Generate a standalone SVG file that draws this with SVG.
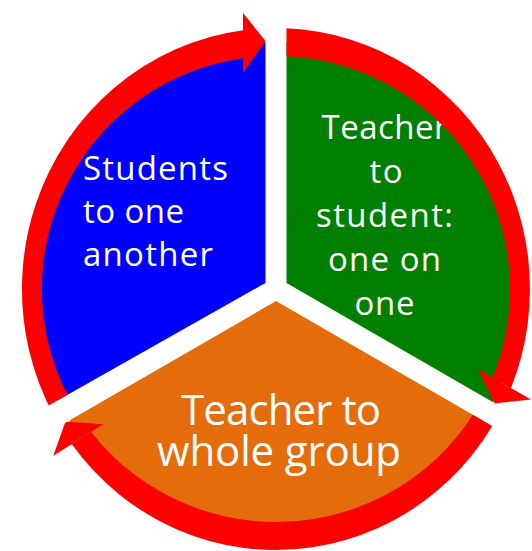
<svg xmlns="http://www.w3.org/2000/svg" width="532" height="551" viewBox="0 0 532 551">
  <style>
    .lbl { font-family: "Open Sans", Lato, "Liberation Sans", sans-serif; fill: #FFFFFF; }
    .small { font-size: 33px; }
    .big { font-size: 42px; }
    .arc { fill: #FF0000; }
  </style>
  <defs>
    <clipPath id="wBlue"><polygon points="265.5,282.9 -81,478.7 -200,-100 265.5,-100"/></clipPath>
    <clipPath id="wGreen"><polygon points="286.5,282.9 633,483 750,-100 286.5,-100"/></clipPath>
    <clipPath id="wOrange"><polygon points="276,301.1 622.4,501.1 622.4,700 -70.4,700 -70.4,501.1"/></clipPath>
  </defs>
  <rect width="532" height="551" fill="#FFFFFF"/>

  <g id="node-blue">
    <ellipse cx="276" cy="289" rx="244" ry="247" fill="#0000FF" clip-path="url(#wBlue)"/>
    <text class="lbl small" x="83" y="180" textLength="145">Students</text>
    <text class="lbl small" x="83" y="223" textLength="101">to one</text>
    <text class="lbl small" x="83" y="266" textLength="130">another</text>
  </g>

  <g id="node-green">
    <ellipse cx="276" cy="289" rx="244" ry="247" fill="#008000" clip-path="url(#wGreen)"/>
    <g text-anchor="middle">
      <text class="lbl small" x="384.5" y="138.5" textLength="126">Teacher</text>
      <text class="lbl small" x="386" y="182.5" textLength="33">to</text>
      <text class="lbl small" x="384.5" y="226.5" textLength="137">student:</text>
      <text class="lbl small" x="384.5" y="270.5" textLength="113">one on</text>
      <text class="lbl small" x="384.5" y="314.5" textLength="60">one</text>
    </g>
  </g>

  <g id="node-orange">
    <ellipse cx="276" cy="289" rx="244" ry="247" fill="#E46C0A" clip-path="url(#wOrange)"/>
    <g text-anchor="middle">
      <text class="lbl big" x="281" y="425" textLength="200">Teacher to</text>
      <text class="lbl big" x="279" y="466" textLength="244">whole group</text>
    </g>
  </g>

  <g id="connectors">
    <g id="arrow-blue-to-green" clip-path="url(#wBlue)">
      <path class="arc" d="M96.4,473.6 A254,261 0 0 1 243,30.2 L243,58.3 A234,233 0 0 0 110.5,453.8 Z"/>
      <polygon class="arc" points="243,13 265.6,41 243,73"/>
    </g>
    <g id="arrow-green-to-orange" clip-path="url(#wGreen)">
      <path class="arc" d="M253.9,29 A254,261 0 0 1 511,388 L492.5,377.4 A234,233 0 0 0 255.6,56.9 Z"/>
      <polygon class="arc" points="478.3,369.3 494.3,403.5 531,399.5"/>
    </g>
    <g id="arrow-orange-to-blue" clip-path="url(#wOrange)">
      <path class="arc" d="M514.7,378.3 A254,261 0 0 1 71.7,444.1 L91.2,431.9 A234,233 0 0 0 495.9,368.7 Z"/>
      <polygon class="arc" points="103.3,424.3 65.5,421.5 53.3,455.7"/>
    </g>
  </g>
</svg>
